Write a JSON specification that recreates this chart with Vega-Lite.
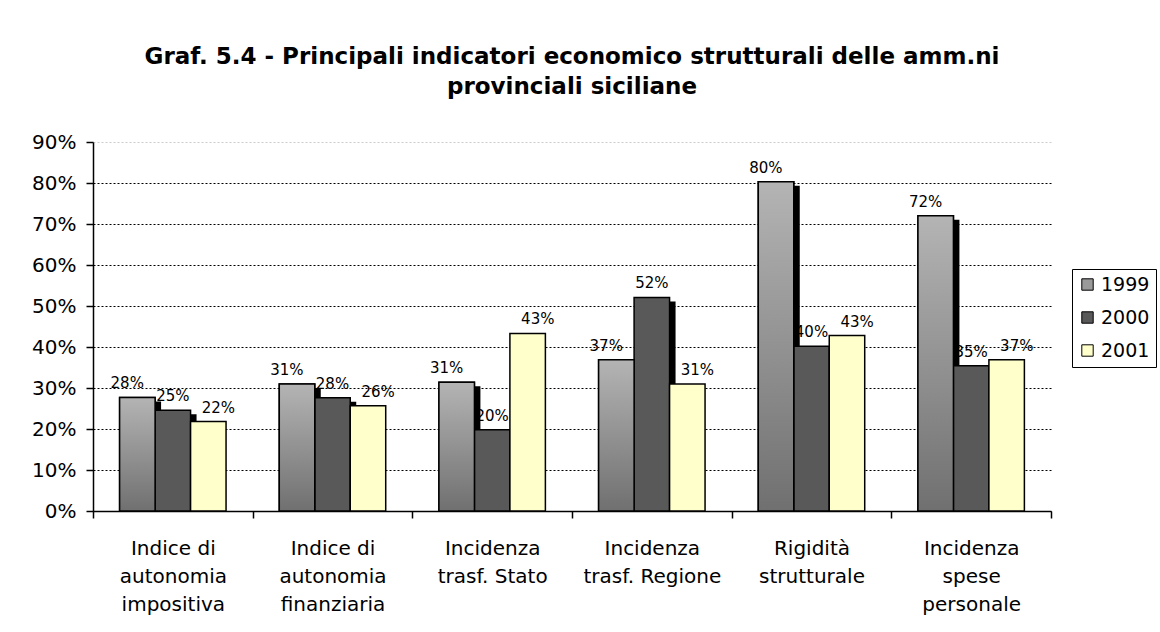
{
  "$schema": "https://vega.github.io/schema/vega-lite/v6.json",
  "autosize": {"type": "none"},
  "padding": {"left": 93, "top": 142, "right": 109, "bottom": 121},
  "width": 958,
  "height": 369,
  "background": "white",
  "title": {
    "text": ["Graf. 5.4 -  Principali indicatori economico strutturali delle amm.ni", "provinciali siciliane"],
    "font": "DejaVu Sans",
    "fontSize": 23,
    "fontWeight": "bold",
    "color": "black",
    "lineHeight": 30,
    "anchor": "middle",
    "offset": 33
  },
  "data": {
    "values": [
      {"cat": "Indice di|autonomia|impositiva", "year": "1999", "v": 0.277},
      {"cat": "Indice di|autonomia|impositiva", "year": "2000", "v": 0.246},
      {"cat": "Indice di|autonomia|impositiva", "year": "2001", "v": 0.218},
      {"cat": "Indice di|autonomia|finanziaria", "year": "1999", "v": 0.31},
      {"cat": "Indice di|autonomia|finanziaria", "year": "2000", "v": 0.276},
      {"cat": "Indice di|autonomia|finanziaria", "year": "2001", "v": 0.257},
      {"cat": "Incidenza|trasf. Stato", "year": "1999", "v": 0.314},
      {"cat": "Incidenza|trasf. Stato", "year": "2000", "v": 0.198},
      {"cat": "Incidenza|trasf. Stato", "year": "2001", "v": 0.433},
      {"cat": "Incidenza|trasf. Regione", "year": "1999", "v": 0.369},
      {"cat": "Incidenza|trasf. Regione", "year": "2000", "v": 0.521},
      {"cat": "Incidenza|trasf. Regione", "year": "2001", "v": 0.31},
      {"cat": "Rigidità|strutturale", "year": "1999", "v": 0.803},
      {"cat": "Rigidità|strutturale", "year": "2000", "v": 0.402},
      {"cat": "Rigidità|strutturale", "year": "2001", "v": 0.428},
      {"cat": "Incidenza|spese|personale", "year": "1999", "v": 0.72},
      {"cat": "Incidenza|spese|personale", "year": "2000", "v": 0.354},
      {"cat": "Incidenza|spese|personale", "year": "2001", "v": 0.369}
    ]
  },
  "encoding": {
    "x": {
      "field": "cat", "type": "nominal", "sort": null,
      "scale": {"paddingInner": 0, "paddingOuter": 0},
      "axis": {
        "title": null,
        "labelExpr": "split(datum.label, '|')",
        "labelAngle": 0,
        "labelFont": "DejaVu Sans",
        "labelFontSize": 20,
        "labelLineHeight": 28,
        "labelColor": "black",
        "labelPadding": 20,
        "tickBand": "extent",
        "tickSize": 7,
        "tickWidth": 1.5,
        "tickColor": "black",
        "domainColor": "black",
        "domainWidth": 1.5
      }
    },
    "xOffset": {"field": "year", "type": "nominal", "scale": {"domain": ["1999", "2000", "2001"], "paddingInner": 0, "paddingOuter": 0.75}},
    "y": {
      "field": "v", "type": "quantitative", "stack": null,
      "scale": {"domain": [0, 0.9], "nice": false},
      "axis": {
        "title": null,
        "format": ".0%",
        "values": [0, 0.1, 0.2, 0.3, 0.4, 0.5, 0.6, 0.7, 0.8, 0.9],
        "labelFont": "DejaVu Sans",
        "labelFontSize": 20,
        "labelColor": "black",
        "labelPadding": 10,
        "tickSize": 7,
        "tickWidth": 1.5,
        "tickColor": "black",
        "domainColor": "black",
        "domainWidth": 1.5,
        "grid": true,
        "gridDash": [2, 2],
        "gridWidth": 1,
        "gridColor": {"condition": {"test": "datum.value >= 0.85", "value": "#cccccc"}, "value": "black"}
      }
    }
  },
  "resolve": {"scale": {"xOffset": "independent"}},
  "layer": [
    {
      "transform": [{"filter": "datum.year != '2001'"}],
      "mark": {"type": "bar", "fill": "black", "yOffset": 4, "clip": true},
      "encoding": {
        "xOffset": {"field": "year", "type": "nominal", "scale": {"domain": ["1999", "2000", "2001"], "paddingInner": 0, "paddingOuter": 0.75, "align": 0.6125}}
      }
    },
    {
      "mark": {"type": "bar", "stroke": "black", "strokeWidth": 1.5},
      "encoding": {
        "fill": {
          "field": "year", "type": "nominal",
          "scale": {"domain": ["1999", "2000", "2001"], "range": ["#9a9a9a", "#595959", "#ffffcc"]},
          "legend": {
            "title": null,
            "orient": "none",
            "legendX": 979,
            "legendY": 127,
            "strokeColor": "black",
            "padding": 6,
            "symbolType": "square",
            "symbolSize": 130,
            "symbolStrokeColor": "black",
            "symbolStrokeWidth": 1,
            "labelFont": "DejaVu Sans",
            "labelFontSize": 19,
            "labelColor": "black",
            "rowPadding": 13,
            "labelOffset": 4
          }
        }
      }
    },
    {
      "transform": [{"filter": "datum.year == '1999'"}],
      "mark": {
        "type": "bar", "stroke": "black", "strokeWidth": 1.5,
        "fill": {"gradient": "linear", "x1": 0, "y1": 0, "x2": 0, "y2": 1,
          "stops": [{"offset": 0, "color": "#b4b4b4"}, {"offset": 1, "color": "#707070"}]}
      }
    },
    {
      "mark": {"type": "text", "font": "DejaVu Sans", "fontSize": 15, "color": "black", "baseline": "alphabetic", "dy": -9},
      "encoding": {"text": {"field": "v", "type": "quantitative", "format": ".0%"}}
    }
  ],
  "config": {"view": {"stroke": null}}
}
